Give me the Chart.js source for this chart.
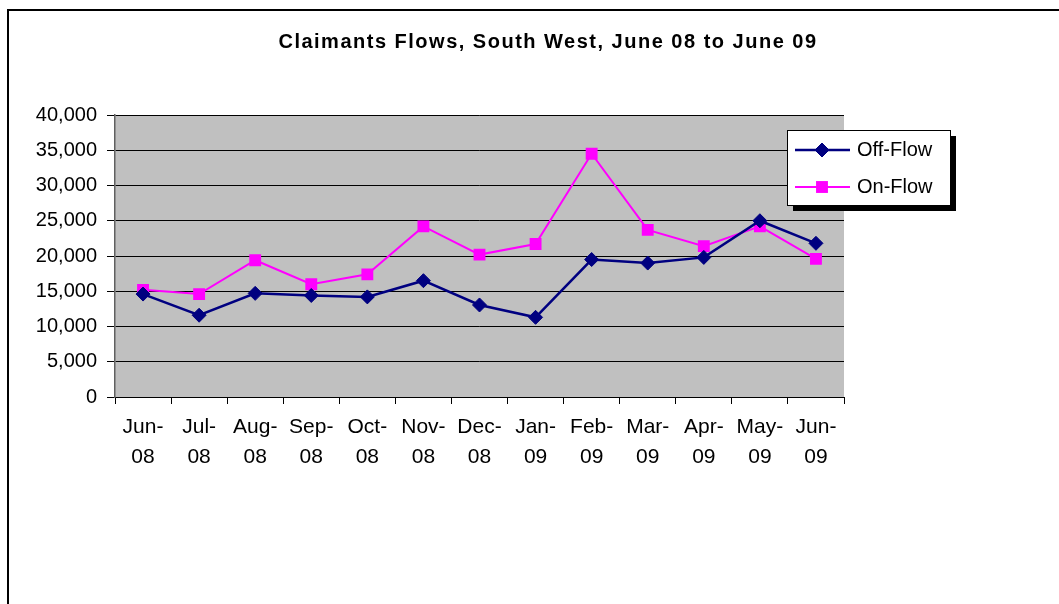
<!DOCTYPE html>
<html>
<head>
<meta charset="utf-8">
<title>Claimants Flows, South West</title>
<script src="https://cdn.jsdelivr.net/npm/chart.js@4.4.0/dist/chart.umd.min.js"></script>
<style>
  html, body { margin: 0; padding: 0; background: #fff; overflow: hidden; }
  #frame { position: absolute; left: 7px; top: 9px; width: 2000px; height: 2000px;
           border-left: 2px solid #000; border-top: 2px solid #000; }
  #wrap { position: absolute; left: 0; top: 0; width: 1059px; height: 604px; }
</style>
</head>
<body>
<div id="frame"></div>
<div id="wrap"><canvas id="flows" width="1059" height="604"></canvas></div>
<script>
const titleText = 'Claimants Flows, South West, June 08 to June 09';

const months = [
  ['Jun-', '08'], ['Jul-', '08'], ['Aug-', '08'], ['Sep-', '08'], ['Oct-', '08'],
  ['Nov-', '08'], ['Dec-', '08'], ['Jan-', '09'], ['Feb-', '09'], ['Mar-', '09'],
  ['Apr-', '09'], ['May-', '09'], ['Jun-', '09']
];

const offFlow = [14600, 11600, 14700, 14400, 14200, 16500, 13050, 11300, 19500, 19000, 19800, 25000, 21800];
const onFlow  = [15200, 14600, 19400, 16000, 17400, 24200, 20200, 21700, 34500, 23700, 21400, 24200, 19600];

const yMin = 0;
const yMax = 40000;
const yStep = 5000;

const FONT = '"Liberation Sans", Arial, sans-serif';

// grey plot area behind the lines
const plotBackground = {
  id: 'plotBackground',
  beforeDraw(chart) {
    const { ctx, chartArea: a } = chart;
    ctx.save();
    ctx.fillStyle = '#c0c0c0';
    ctx.fillRect(a.left, a.top, a.right - a.left, a.bottom - a.top);
    ctx.restore();
  }
};

// title is centred on the frame, not on the plot
const chartTitle = {
  id: 'chartTitle',
  afterDraw(chart) {
    const ctx = chart.ctx;
    ctx.save();
    ctx.font = 'bold 20px ' + FONT;
    ctx.letterSpacing = '1.5px';
    ctx.fillStyle = '#000';
    ctx.textAlign = 'center';
    ctx.textBaseline = 'alphabetic';
    ctx.fillText(titleText, 548, 48);
    ctx.restore();
  }
};

// boxed legend with a drop shadow, sitting over the top right corner
const boxLegend = {
  id: 'boxLegend',
  afterDraw(chart) {
    const ctx = chart.ctx;
    const x = 787, y = 130, w = 163, h = 75;
    ctx.save();
    ctx.fillStyle = '#000';
    ctx.fillRect(x + 6, y + 6, w, h);
    ctx.fillStyle = '#fff';
    ctx.fillRect(x, y, w, h);
    ctx.strokeStyle = '#000';
    ctx.lineWidth = 1;
    ctx.strokeRect(x + 0.5, y + 0.5, w, h);

    const rows = [150, 187];
    chart.data.datasets.forEach((ds, i) => {
      const cy = rows[i];
      ctx.strokeStyle = ds.borderColor;
      ctx.lineWidth = ds.borderWidth;
      ctx.beginPath();
      ctx.moveTo(795, cy);
      ctx.lineTo(850, cy);
      ctx.stroke();
      ctx.fillStyle = ds.pointBackgroundColor;
      ctx.strokeStyle = ds.pointBorderColor;
      ctx.lineWidth = ds.pointBorderWidth;
      Chart.helpers.drawPoint(ctx, {
        pointStyle: ds.pointStyle,
        radius: ds.pointRadius,
        rotation: 0,
        borderWidth: ds.pointBorderWidth
      }, 822, cy);
      ctx.fillStyle = '#000';
      ctx.font = '20px ' + FONT;
      ctx.textAlign = 'left';
      ctx.textBaseline = 'middle';
      ctx.fillText(ds.label, 857, cy);
    });
    ctx.restore();
  }
};

new Chart(document.getElementById('flows'), {
  type: 'line',
  data: {
    labels: months,
    datasets: [
      {
        label: 'Off-Flow',
        data: offFlow,
        borderColor: '#000080',
        borderWidth: 2.5,
        pointStyle: 'rectRot',
        pointRadius: 7,
        pointBackgroundColor: '#000080',
        pointBorderColor: '#000080',
        pointBorderWidth: 1,
        tension: 0
      },
      {
        label: 'On-Flow',
        data: onFlow,
        borderColor: '#ff00ff',
        borderWidth: 2,
        pointStyle: 'rect',
        pointRadius: 8.4,
        pointBackgroundColor: '#ff00ff',
        pointBorderColor: '#ff00ff',
        pointBorderWidth: 0,
        tension: 0
      }
    ]
  },
  options: {
    responsive: false,
    animation: false,
    devicePixelRatio: 1,
    events: [],
    layout: { padding: { left: 0, top: 115, right: 215, bottom: 117 } },
    plugins: {
      legend: { display: false },
      title: { display: false },
      tooltip: { enabled: false }
    },
    scales: {
      x: {
        offset: true,
        grid: { offset: true, drawOnChartArea: false, tickLength: 7, color: '#000', tickColor: '#000' },
        border: { color: '#000', width: 1 },
        ticks: {
          color: '#000',
          font: { family: FONT, size: 21, lineHeight: 1.43 },
          padding: 8,
          maxRotation: 0,
          autoSkip: false
        },
        afterFit(scale) { scale.height = 90; }
      },
      y: {
        min: yMin,
        max: yMax,
        grid: { color: '#000', tickColor: '#000', tickLength: 8, lineWidth: 1 },
        border: { color: '#606060', width: 1.5 },
        ticks: {
          stepSize: yStep,
          color: '#000',
          font: { family: FONT, size: 20 },
          padding: 10,
          callback: v => v.toLocaleString('en-US')
        },
        afterFit(scale) { scale.width = 115; }
      }
    }
  },
  plugins: [plotBackground, chartTitle, boxLegend]
});
</script>
</body>
</html>
